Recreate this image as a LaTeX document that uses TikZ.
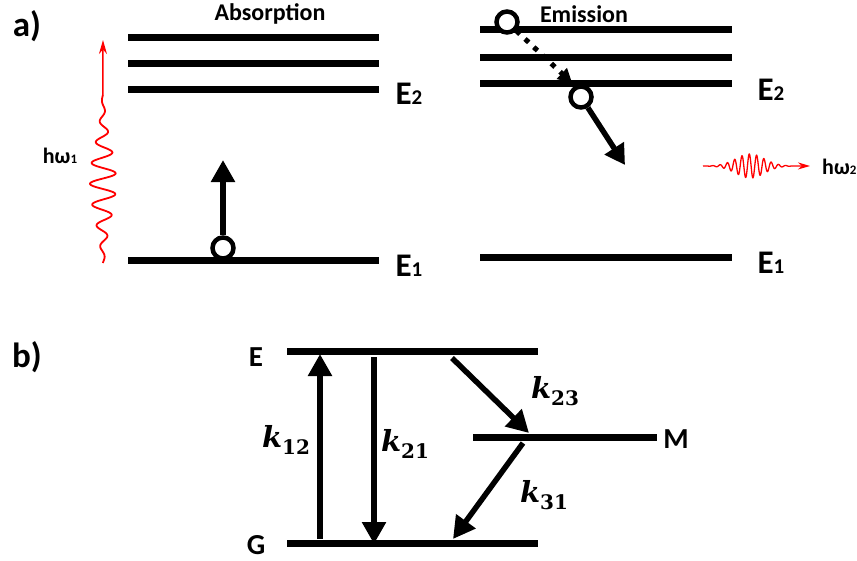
\documentclass[tikz,border=0pt]{standalone}
\usepackage{fontspec}
\setmainfont{Carlito}
\newfontfamily\kfont{DejaVu Serif}
\usetikzlibrary{arrows.meta,calc}
\newcommand{\rateK}[1]{{\kfont\bfseries\itshape k}\raisebox{-7pt}{\kfont\bfseries\fontsize{20}{20}\selectfont #1}}
\begin{document}
\begin{tikzpicture}[x=1pt,y=-1pt,
  level/.style={line width=7pt,line cap=butt},
  bigarrow/.style={line width=5.5pt,-{Triangle[width=23pt,length=22pt]}},
  electron/.style={circle,draw,line width=4.5pt,fill=white,minimum size=21pt,inner sep=0pt},
  wave/.style={red,line width=1.8pt},
  lbl/.style={font=\bfseries\fontsize{33}{33}\selectfont,inner sep=0pt},
  blbl/.style={font=\bfseries\fontsize{29}{29}\selectfont,inner sep=0pt},
  title/.style={font=\bfseries\fontsize{24}{24}\selectfont,inner sep=0pt},
  photon/.style={font=\bfseries\fontsize{22}{22}\selectfont,inner sep=0pt},
  rate/.style={font=\fontsize{29}{29}\selectfont,inner sep=0pt}
]
\useasboundingbox (0,0) rectangle (857,560);
% panel labels
\node[font=\bfseries\fontsize{35}{35}\selectfont,inner sep=0pt] (pa) at (27,26) {a)};
\node[font=\bfseries\fontsize{35}{35}\selectfont,inner sep=0pt] (pb) at (27,357) {b)};
\node[title] (tabs) at (270,14) {Absorption};
\node[title] (temi) at (584,14) {Emission};
% absorption levels
\coordinate (a1l) at (128,37); \coordinate (a1r) at (379,37);
\coordinate (a2l) at (128,63); \coordinate (a2r) at (379,63);
\coordinate (a3l) at (128,89); \coordinate (a3r) at (379,89);
\coordinate (a0l) at (128,260); \coordinate (a0r) at (379,260);
\draw[level] (a1l) -- (a1r);
\draw[level] (a2l) -- (a2r);
\draw[level] (a3l) -- (a3r);
\draw[level] (a0l) -- (a0r);
\node[lbl] (aE2) at (409,94) {E{\fontsize{21}{21}\selectfont 2}};
\node[lbl] (aE1) at (409,266) {E{\fontsize{21}{21}\selectfont 1}};
% absorption transition
\coordinate (atip) at (223,160);
\node[electron] (ael) at (223,248) {};
\draw[bigarrow] (ael) -- (atip);
% incoming photon
\coordinate (wtop) at (103,40);
\draw[wave] plot[domain=263:95,samples=400,smooth] ({103+13*exp(-((\x-182)/52)^2)*sin(\x/21*360)},\x) coordinate (wend);
\draw[wave,line width=1.5pt,-{Stealth[length=14pt,width=8pt]}] (wend) -- (wtop);
\node[photon] (hw1) at (60,156) {hω{\fontsize{13}{13}\selectfont 1}};
% emission levels
\coordinate (e1l) at (480,29); \coordinate (e1r) at (732,29);
\coordinate (e2l) at (480,57); \coordinate (e2r) at (732,57);
\coordinate (e3l) at (480,83); \coordinate (e3r) at (732,83);
\coordinate (e0l) at (480,257); \coordinate (e0r) at (732,257);
\draw[level] (e1l) -- (e1r);
\draw[level] (e2l) -- (e2r);
\draw[level] (e3l) -- (e3r);
\draw[level] (e0l) -- (e0r);
\node[lbl] (eE2) at (771,90) {E{\fontsize{21}{21}\selectfont 2}};
\node[lbl] (eE1) at (771,263) {E{\fontsize{21}{21}\selectfont 1}};
% relaxation
\node[electron] (etop) at (507,22) {};
\coordinate (rtip) at (572,83);
\draw[line width=5pt,dash pattern=on 5pt off 7pt,shorten >=12pt] (etop) -- (rtip);
\draw[line width=1pt,-{Triangle[width=15pt,length=14pt]}] ($(rtip)!14pt!(etop)$) -- (rtip);
\node[electron] (emid) at (581,97) {};
\coordinate (etip) at (625,165);
\draw[line width=5.5pt,-{Triangle[width=22pt,length=20pt]}] (emid) -- (etip);
% emitted photon
\coordinate (wright) at (810,166);
\draw[wave,line width=1.3pt] plot[domain=703:792,samples=500,smooth] (\x,{166+12*exp(-((\x-750)/20)^2)*sin((\x-700)/7.3*360)}) coordinate (hend);
\draw[wave,line width=1.3pt,-{Stealth[length=12pt,width=7pt]}] (hend) -- (wright);
\node[photon,anchor=west] (hw2) at (822,167) {hω{\fontsize{13}{13}\selectfont 2}};
% panel b levels
\coordinate (El) at (287,351); \coordinate (Er) at (538,351);
\coordinate (Gl) at (287,543); \coordinate (Gr) at (538,543);
\coordinate (Ml) at (473,437); \coordinate (Mr) at (657,437);
\draw[level] (El) -- (Er);
\draw[level] (Gl) -- (Gr);
\draw[level] (Ml) -- (Mr);
\node[blbl] (Elab) at (256,357) {E};
\node[blbl] (Glab) at (256,545) {G};
\node[blbl] (Mlab) at (676,439) {M};
% rates
\coordinate (k12s) at (320,539); \coordinate (k12t) at (320,354);
\coordinate (k21s) at (374,357); \coordinate (k21t) at (374,544);
\coordinate (k23s) at (452,358); \coordinate (k23t) at (529,433);
\coordinate (k31s) at (523,443); \coordinate (k31t) at (453,539);
\draw[bigarrow] (k12s) -- (k12t);
\draw[bigarrow] (k21s) -- (k21t);
\draw[bigarrow] (k23s) -- (k23t);
\draw[bigarrow] (k31s) -- (k31t);
\node[rate] (k12) at (286,440) {\rateK{12}};
\node[rate] (k21) at (405,444) {\rateK{21}};
\node[rate] (k23) at (555,391) {\rateK{23}};
\node[rate] (k31) at (544,495) {\rateK{31}};
\end{tikzpicture}
\end{document}
